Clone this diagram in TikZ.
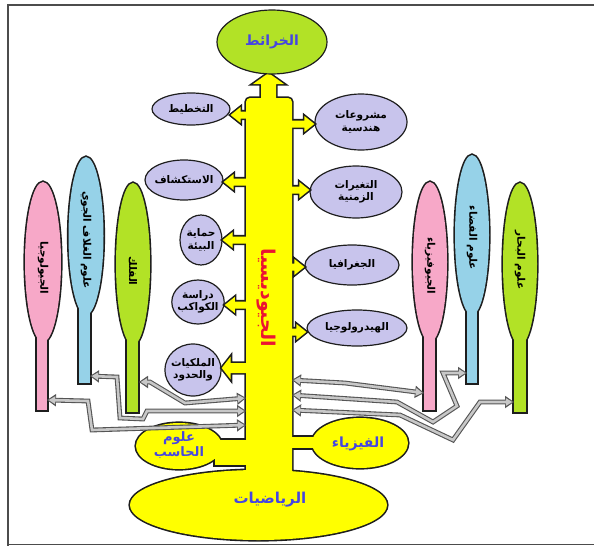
\documentclass[tikz,border=0pt]{standalone}
\usepackage{fontspec}
\usetikzlibrary{shapes.geometric,arrows.meta,calc}
\newfontfamily\arfont[Script=Arabic]{DejaVu Sans}
\TeXXeTstate=1
\newcommand\AR[1]{\beginR#1\endR}
\definecolor{yel}{RGB}{255,255,0}
\definecolor{limec}{RGB}{178,226,38}
\definecolor{pinkc}{RGB}{247,168,200}
\definecolor{bluec}{RGB}{150,210,232}
\definecolor{lavc}{RGB}{200,196,236}
\definecolor{txtblue}{RGB}{70,70,225}
\definecolor{txtred}{RGB}{235,20,50}
\definecolor{edgec}{RGB}{30,30,30}
\definecolor{garr}{RGB}{200,200,200}
\definecolor{garrb}{RGB}{85,85,85}
% side arrow polygon: style, start, tip, head offset, half shaft, half head
\newcommand\sarr[6]{\path[#1] ($(#2)+(0,-#5)$) -- ($(#3)+(#4,-#5)$) -- ($(#3)+(#4,-#6)$) -- (#3) -- ($(#3)+(#4,#6)$) -- ($(#3)+(#4,#5)$) -- ($(#2)+(0,#5)$) -- cycle;}
\newcommand\garrow[1]{\draw[grayouter] #1; \draw[grayinner] #1;}
\begin{document}
\begin{tikzpicture}[x=1pt,y=-1pt,font=\arfont\bfseries,
  outlinepass/.style={draw=edgec,line width=3.2pt,line join=miter},
  yellowfill/.style={fill=yel,draw=none,inner sep=0pt},
  stemfill/.style={draw=none,inner sep=0pt},
  lav/.style={ellipse,draw=edgec,line width=1.2pt,fill=lavc,inner sep=-2pt,align=center,font=\arfont\bfseries\fontsize{10.5}{12.5}\selectfont},
  vtext/.style={rotate=-90,font=\arfont\bfseries\fontsize{10.5}{12}\selectfont},
  btext/.style={text=txtblue,align=center},
  grayouter/.style={draw=garrb,line width=4.8pt,line join=miter,arrows={Triangle[length=9pt,width=12.5pt,line width=0pt]-Triangle[length=9pt,width=12.5pt,line width=0pt]}},
  grayinner/.style={draw=garr,line width=2.6pt,line join=miter,shorten >=1.7pt,shorten <=1.7pt,arrows={Triangle[length=6.5pt,width=8pt,line width=0pt]-Triangle[length=6.5pt,width=8pt,line width=0pt]}}]
\useasboundingbox (0,0) rectangle (594,546);
% frame
\draw[black!70,line width=1.5pt] (594,5) -- (8,5) -- (8,546);
\draw[black!70,line width=1.5pt] (8,544.5) -- (594,544.5);
% lavender topics
\node[lav,minimum width=78,minimum height=32] (tplan) at (191,109) {\AR{التخطيط}};
\node[lav,minimum width=92,minimum height=56] (teng) at (361,122) {\AR{مشروعات}\\\AR{هندسية}};
\node[lav,minimum width=78,minimum height=40] (texp) at (184,180) {\AR{الاستكشاف}};
\node[lav,minimum width=92,minimum height=52] (ttemp) at (356,192) {\AR{التغيرات}\\\AR{الزمنية}};
\node[lav,minimum width=42,minimum height=50] (tenv) at (201,240) {\AR{حماية}\\\AR{البيئة}};
\node[lav,minimum width=94,minimum height=40] (tgeo) at (352,265) {\AR{الجغرافيا}};
\node[lav,minimum width=48,minimum height=44] (tplanet) at (198,302) {\AR{دراسة}\\\AR{الكواكب}};
\node[lav,minimum width=100,minimum height=36] (thyd) at (357,328) {\AR{الهيدرولوجيا}};
\node[lav,minimum width=56,minimum height=52] (tprop) at (193,370) {\AR{الملكيات}\\\AR{والحدود}};
% arrow starts (inside trunk) and tips
\coordinate (s1) at (269,115); \coordinate (t1) at (tplan.east |- s1);
\coordinate (s2) at (269,124); \coordinate (t2) at (teng.west |- s2);
\coordinate (s3) at (269,182); \coordinate (t3) at (texp.east |- s3);
\coordinate (s4) at (269,190); \coordinate (t4) at (ttemp.west |- s4);
\coordinate (s5) at (269,240); \coordinate (t5) at (tenv.east |- s5);
\coordinate (s6) at (269,267); \coordinate (t6) at (tgeo.west |- s6);
\coordinate (s7) at (269,305); \coordinate (t7) at (tplanet.east |- s7);
\coordinate (s8) at (269,332); \coordinate (t8) at (thyd.west |- s8);
\coordinate (s9) at (269,368); \coordinate (t9) at (tprop.east |- s9);
% ---- yellow outlines
\draw[outlinepass,rounded corners=4pt] (246,98) rectangle (292,490);
\draw[outlinepass] (258.5,505) ellipse [x radius=128.5,y radius=35];
\draw[outlinepass] (215,440) rectangle (250,465);
\draw[outlinepass] (179,446) ellipse [x radius=43,y radius=23];
\draw[outlinepass] (288,437) rectangle (318,448);
\draw[outlinepass] (360,443) ellipse [x radius=48,y radius=25];
\draw[outlinepass] (261,101) -- (261,84) -- (253,84) -- (268.5,73) -- (284,84) -- (276,84) -- (276,101) -- cycle;
\sarr{outlinepass}{s1}{t1}{10}{3.5}{8}
\sarr{outlinepass}{s2}{t2}{-10}{3.5}{8}
\sarr{outlinepass}{s3}{t3}{10}{3.5}{8}
\sarr{outlinepass}{s4}{t4}{-10}{3.5}{8}
\sarr{outlinepass}{s5}{t5}{10}{3.5}{8}
\sarr{outlinepass}{s6}{t6}{-10}{3.5}{8}
\sarr{outlinepass}{s7}{t7}{10}{3.5}{8}
\sarr{outlinepass}{s8}{t8}{-10}{3.5}{8}
\sarr{outlinepass}{s9}{t9}{9}{5}{11.5}
% ---- yellow fills
\node[yellowfill,rectangle,rounded corners=4pt,minimum width=46,minimum height=392] (trunk) at (269,294) {};
\node[yellowfill,rectangle,minimum width=35,minimum height=25] (cbar) at (232.5,452.5) {};
\node[yellowfill,rectangle,minimum width=30,minimum height=11] (pbar) at (303,442.5) {};
\node[yellowfill,ellipse,minimum width=257,minimum height=70] (math) at (258.5,505) {};
\node[yellowfill,ellipse,minimum width=86,minimum height=46] (comp) at (179,446) {};
\node[yellowfill,ellipse,minimum width=96,minimum height=50] (phys) at (360,443) {};
\path[yellowfill] (261,101) -- (261,84) -- (253,84) -- (268.5,73) -- (284,84) -- (276,84) -- (276,101) -- cycle;
\sarr{yellowfill}{s1}{t1}{10}{3.5}{8}
\sarr{yellowfill}{s2}{t2}{-10}{3.5}{8}
\sarr{yellowfill}{s3}{t3}{10}{3.5}{8}
\sarr{yellowfill}{s4}{t4}{-10}{3.5}{8}
\sarr{yellowfill}{s5}{t5}{10}{3.5}{8}
\sarr{yellowfill}{s6}{t6}{-10}{3.5}{8}
\sarr{yellowfill}{s7}{t7}{10}{3.5}{8}
\sarr{yellowfill}{s8}{t8}{-10}{3.5}{8}
\sarr{yellowfill}{s9}{t9}{9}{5}{11.5}
% texts on yellow
\node[btext,font=\arfont\bfseries\fontsize{15}{17}\selectfont] (mathT) at (270,500) {\AR{الرياضيات}};
\node[btext,font=\arfont\bfseries\fontsize{13}{15}\selectfont] (compT) at (179,445) {\AR{علوم}\\\AR{الحاسب}};
\node[btext,font=\arfont\bfseries\fontsize{14}{16}\selectfont] (physT) at (358,444) {\AR{الفيزياء}};
\node[rotate=-90,text=txtred,font=\arfont\bfseries\fontsize{19}{22}\selectfont] (geodT) at (266,298) {\AR{الجيوديسيا}};
% top ellipse
\node[ellipse,draw=edgec,line width=1.2pt,fill=limec,minimum width=110,minimum height=64,inner sep=0pt,text=txtblue,font=\arfont\bfseries\fontsize{14}{16}\selectfont] (maps) at (272,42) {\AR{الخرائط}};
% ---- stem shapes: outlines
\draw[outlinepass] (43,262) ellipse [x radius=18,y radius=80];   \draw[outlinepass] (37,330) rectangle (47,410);
\draw[outlinepass] (86,236) ellipse [x radius=17.5,y radius=79]; \draw[outlinepass] (79,305) rectangle (90,383);
\draw[outlinepass] (133,264) ellipse [x radius=17,y radius=81];  \draw[outlinepass] (127,335) rectangle (138,412);
\draw[outlinepass] (430,262) ellipse [x radius=17,y radius=80];  \draw[outlinepass] (424,330) rectangle (435,410);
\draw[outlinepass] (472,235) ellipse [x radius=17,y radius=80];  \draw[outlinepass] (467,305) rectangle (477,383);
\draw[outlinepass] (520,264) ellipse [x radius=17,y radius=81];  \draw[outlinepass] (514,335) rectangle (526,412);
% ---- stem shapes: fills
\node[stemfill,rectangle,fill=pinkc,minimum width=10,minimum height=80] (lgeoS) at (42,370) {};
\node[stemfill,ellipse,fill=pinkc,minimum width=36,minimum height=160] (lgeoE) at (43,262) {};
\node[stemfill,rectangle,fill=bluec,minimum width=11,minimum height=78] (latmS) at (84.5,344) {};
\node[stemfill,ellipse,fill=bluec,minimum width=35,minimum height=158] (latmE) at (86,236) {};
\node[stemfill,rectangle,fill=limec,minimum width=11,minimum height=77] (lastS) at (132.5,373.5) {};
\node[stemfill,ellipse,fill=limec,minimum width=34,minimum height=162] (lastE) at (133,264) {};
\node[stemfill,rectangle,fill=pinkc,minimum width=11,minimum height=80] (rgphS) at (429.5,370) {};
\node[stemfill,ellipse,fill=pinkc,minimum width=34,minimum height=160] (rgphE) at (430,262) {};
\node[stemfill,rectangle,fill=bluec,minimum width=10,minimum height=78] (rspS) at (472,344) {};
\node[stemfill,ellipse,fill=bluec,minimum width=34,minimum height=160] (rspE) at (472,235) {};
\node[stemfill,rectangle,fill=limec,minimum width=12,minimum height=77] (rseaS) at (520,373.5) {};
\node[stemfill,ellipse,fill=limec,minimum width=34,minimum height=162] (rseaE) at (520,264) {};
% stem texts
\node[vtext] (lgeoT) at (43,268) {\AR{الجيولوجيا}};
\node[vtext] (latmT) at (86,240) {\AR{علوم الغلاف الجوي}};
\node[vtext] (lastT) at (133,271) {\AR{الفلك}};
\node[vtext] (rgphT) at (430,266) {\AR{الجيوفيزياء}};
\node[vtext] (rspT) at (472,238) {\AR{علوم الفضاء}};
\node[vtext] (rseaT) at (520,260) {\AR{علوم البحار}};
% ---- gray connectors
\coordinate (gl1) at (139,382); \coordinate (gl1t) at (246,398);
\coordinate (gl2) at (90,376);  \coordinate (gl2t) at (246,411);
\coordinate (gl3) at (47,400);  \coordinate (gl3t) at (246,425);
\coordinate (gr1) at (424,393); \coordinate (gr1t) at (292,380);
\coordinate (gr2) at (467,373); \coordinate (gr2t) at (292,395);
\coordinate (gr3) at (514,402); \coordinate (gr3t) at (292,410);
\garrow{(gl1) -- (150,382) -- (185,403) -- (gl1t)}
\garrow{(gl2) -- (117,377) -- (120,418) -- (143,419) -- (147,411) -- (gl2t)}
\garrow{(gl3) -- (88,401) -- (92,430) -- (gl3t)}
\garrow{(gr1t) -- (345,383) -- (gr1)}
\garrow{(gr2t) -- (397,402) -- (433,422) -- (457,406) -- (443,373) -- (gr2)}
\garrow{(gr3t) -- (400,415) -- (453,440) -- (480,402) -- (gr3)}
\end{tikzpicture}
\end{document}
